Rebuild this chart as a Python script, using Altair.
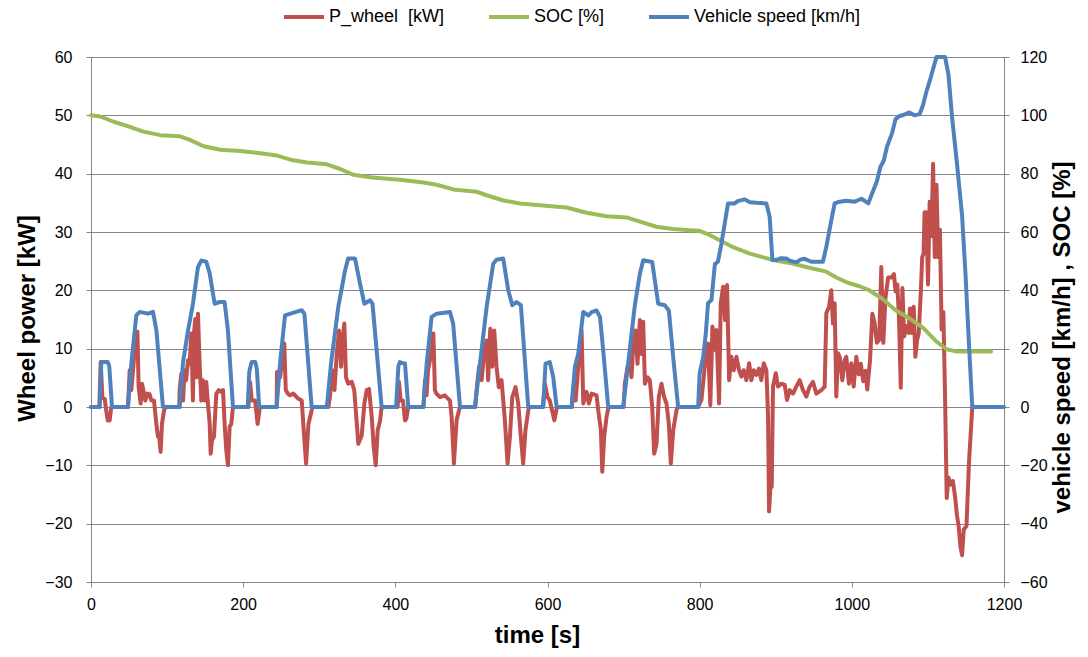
import altair as alt
import pandas as pd

FONT = "Liberation Sans"

# ---- tick values ----
x_ticks = [0, 200, 400, 600, 800, 1000, 1200]
left_ticks = [-30, -20, -10, 0, 10, 20, 30, 40, 50, 60]
right_ticks = [-60, -40, -20, 0, 20, 40, 60, 80, 100, 120]

series_names = ["P_wheel\u00a0 [kW]", "SOC [%]", "Vehicle speed [km/h]"]
series_colors = ["#C0504D", "#9BBB59", "#4F81BD"]

# ---- P_wheel [kW] : (time s, kW) ----
p_wheel_ece1 = [(0, 0), (11, 0), (12.7, 7.7), (15, 1.7), (18, 1.4), (20, -0.6), (22, -2.3), (24.5, -2.3), (26.7, 0),
                (48.6, 0), (50.8, 6.3), (53, 2.9), (57.4, 9.7), (61, 12.9), (62.6, 3.4), (65.3, 0.6), (67, 4), (68.8, 2.9),
                (71.4, 1.1), (74, 2.3), (77, 2.2), (79.3, 1.1), (82.8, 1.1), (85.9, -2.9), (88, -5.1), (89.5, -4.9),
                (91.5, -7.7), (93.3, -2.9), (96, -0.6), (98, 0), (116, 0), (116.5, 2.9), (118.7, 5.7), (121, 1.1),
                (123, 6.3), (125, 4.6), (127.5, 8), (129.6, 7.4), (131.8, 12.6), (134, 1.1), (135.4, 12.6), (137, 15.1),
                (138.9, 5.1), (140.6, 16), (142.8, 7.4), (145, 1.1), (147, 4.6), (149.4, 1.1), (151.5, 4.3), (153.7, 0.6),
                (156, -2.9), (157.3, -8), (159, -5.7), (161.6, -5.1), (164.7, 2.3), (168, 2.9), (171, 2.6), (173.5, 2.9),
                (175.6, -2.9), (177.8, -7.4), (180, -10), (182.2, -3.4), (184.4, -2.9), (186.6, 0)]
p_wheel_ece2 = [(188, 0), (207, 0), (209, 4.3), (211.4, 1.1), (215.7, 1.1), (219, -2.9), (222, 0), (244, 0), (244.5, 6),
                (248.6, 5.1), (254, 10.9), (256, 2.9), (258.6, 2.3), (261.7, 2), (266, 2.3), (272.6, 1.4), (277, 1.1),
                (279, -2.9), (282.7, -9.7), (285.8, -2.9), (290, -0.6), (291, 0), (312, 0), (314, 1.7), (317, 6.3),
                (320, 2.9), (323, 9.1), (326, 13.1), (328.7, 6.9), (331, 12), (333, 14.3), (335.2, 5.1), (338, 4),
                (342.7, 4.3), (346, 2.9), (349, -2.3), (351.4, -6.3), (355.8, -4.9), (359.3, 0.6), (362.4, 2.9),
                (365.4, 3.1), (369, -1.7), (371.6, -6.9), (374.2, -10), (376.8, -4), (380, -2.3), (382, 0)]
p_wheel_ece3 = [(400, 0), (403, 0), (404.8, 4.3), (407, 1.1), (410, 1.1), (412.7, -2.3), (414.5, -2), (417, 0), (437, 0),
                (439, 4.6), (441, 2), (443, 6.3), (447, 9), (450, 12.6), (452, 2.9), (454, 2.3), (458.7, 1.7), (465, 2),
                (471.8, 1.1), (474, -1.7), (477, -9.7), (480.5, -2.3), (483.6, -0.6), (485, 0), (505, 0), (506.8, 2.9),
                (510, 6.9), (513.4, 4.6), (517, 9.7), (520, 11.4), (522, 4.6), (524.8, 13.4), (527.4, 6.9), (530, 13.1),
                (533, 6.9), (536, 3.4), (539.6, 4.6), (544, -2.3), (547.5, -9.7), (550.6, -5.1), (553.7, 1.7), (558, 3.4),
                (561.5, 0.6), (565, -5.1), (568, -9.7), (571, -4), (574.7, -0.6), (576, 0)]
p_wheel_ece4 = [(594, 0), (596.5, 4), (600, 1.7), (603, 1.1), (606, -0.6), (609, -2.3), (612, -0.3), (613, 0), (632, 0),
                (634, 3.4), (637, 1.1), (640.4, 6.9), (644.8, 13.1), (647, 0.6), (651.4, 2.6), (654.4, 0.6), (658, 2.3),
                (664.5, 2), (666.7, -0.6), (670.2, -4), (672, -11.1), (674.5, -5.1), (677.6, -1.7), (679.8, -0.3), (681, 0),
                (700, 0), (701.7, 4), (705.2, 6.9), (708.3, 8), (710.4, 5.1), (712.6, 10.3), (715.7, 13.1), (718.3, 7.4),
                (721.4, 14.9), (723.6, 9.1), (725.8, 14.6), (728, 4), (731.5, 5.1), (734.5, 4.6), (737.6, 0), (740.2, -8),
                (743.3, -6.3), (746.3, 1.7), (749.8, 4), (753.3, 1.7), (756.4, 0.6), (759.5, -2.9), (762.1, -9.7),
                (765.2, -4), (769.5, -0.6), (771, 0)]
p_wheel_eudc = [(798, 0), (802.3, 1.2), (805.4, 5.2), (808.9, 9.8), (811, 10.9), (814, 0.3), (816.8, 13.8), (819.8, 9.8),
                (822, 13.2), (825.5, 0.6), (827.7, 17.8), (830.8, 20.6), (833.4, 14.9), (836, 20.9), (838.7, 4.6),
                (841.7, 8.6), (844.8, 6.3), (848.3, 8.6), (851.8, 6.3), (854.8, 5.2), (857.9, 6.3), (861.4, 4.6),
                (865, 7.5), (868, 4.6), (871, 6.3), (874.5, 5.5), (878, 6.6), (881, 4.6), (884.2, 7.5), (887.7, 6.3),
                (889.9, -1.7), (891.2, -17.9), (893, -13.7), (894.7, -13.7), (896.4, 3.5), (900, 5.8), (903, 3.5),
                (907.4, 4), (911.8, 3.8), (914.8, 1.2), (918.3, 2.9), (922.7, 2.3), (927, 3.5), (931.5, 4.6),
                (935.8, 2.9), (940.2, 1.8), (944.6, 3.5), (949, 4.3), (953.3, 2.3), (960, 2.9), (964.3, 3.5),
                (966.5, 16.1), (970, 17.2), (973, 20), (975.2, 14.3), (977.4, 17.8), (979.6, 1.8), (981.8, 9.2),
                (984, 8.6), (987.5, 4.6), (990.5, 8), (992.7, 8.6), (996.2, 4), (999.3, 7.5), (1002.4, 3.5),
                (1005.9, 8.6), (1009.1, 5.6), (1011.8, 7.4), (1015, 4.4), (1018, 6.2), (1020.3, 3), (1023.9, 8),
                (1027, 16), (1029.8, 14.5), (1032.9, 11), (1036, 11.5), (1038.7, 24), (1041.4, 11), (1044.1, 18.6),
                (1047.7, 22.2), (1052.2, 22.2), (1055.3, 22.8), (1057.5, 19.8), (1059.8, 21), (1062, 15.1),
                (1064.3, 3.3), (1066.5, 20.4), (1068.7, 12.1), (1071.9, 13.9), (1074.6, 12.7), (1076.4, 16.9),
                (1079, 12.7), (1081.3, 17.2), (1083.5, 8.6), (1085.8, 11.5), (1088, 12.7), (1090.7, 19.8),
                (1092.5, 25.7), (1094.3, 26.3), (1095.6, 33.4), (1097.9, 33.4), (1100.1, 21), (1102.3, 35.2),
                (1104.6, 29.3), (1106.8, 41.7), (1109, 25.7), (1111.3, 38.1), (1113.5, 25.7), (1115.8, 30.4),
                (1118, 13.3), (1120.3, 16.3), (1122.5, 2), (1124.7, -15.6), (1127, -12.1), (1130.1, -13.3),
                (1132.8, -12.7), (1135.9, -15.6), (1138.2, -18.6), (1140.4, -20.4), (1142.7, -23.9), (1144.9, -25.4),
                (1147.1, -21), (1150.7, -20.4), (1153.9, -9.7), (1158.3, 0)]

# ---- SOC [%] ----
soc_points = [(0, 100), (12.2, 99.6), (29.7, 97.8), (47.2, 96.4), (69, 94.4), (91, 93.2), (117, 92.8), (130, 91.6),
              (148, 89.4), (170, 88.2), (196, 87.8), (222.6, 87), (244.5, 86.2), (262, 84.8), (284, 83.8), (310, 83.2),
              (327.6, 81.6), (345, 79.6), (367, 78.8), (393, 78.2), (406, 77.9), (437, 77), (454.3, 76.2),
              (476.2, 74.6), (507, 73.8), (520, 72.6), (542, 70.8), (563.8, 69.8), (590, 69.2), (625, 68.4),
              (651.3, 66.6), (677.6, 65.4), (703.8, 65), (725.7, 63.2), (743.2, 61.8), (765, 61), (787, 60.6),
              (800, 60.4), (813, 59), (830.8, 56.6), (844, 54.8), (865.8, 52.6), (896.4, 50.4), (918, 49.4),
              (940, 48), (966.5, 46.4), (979.6, 44.4), (994.8, 42.6), (1010, 41.4), (1021.7, 40.2), (1039.6, 37.2),
              (1057.5, 33.2), (1075.5, 30.4), (1093.4, 27.2), (1111.3, 22.4), (1124.7, 19.8), (1138.2, 19),
              (1156, 19), (1183, 19)]

# ---- Vehicle speed [km/h] ----
speed_ece1 = [(0, 0), (11.4, 0), (13.6, 15.4), (22, 15.4), (24, 14), (27.6, 0), (48.6, 0), (53, 14.9), (59.6, 31.4),
              (64, 32.6), (75, 32), (81.5, 32.6), (86, 26.2), (94.6, 0), (116.5, 0), (121, 15.4), (127.5, 26.2),
              (134, 35.4), (140.6, 48), (145, 50.2), (151.5, 49.8), (156, 45.8), (162.5, 35.4), (169, 36),
              (175.6, 36), (180, 26.2), (186.6, 0)]
speed_ece2 = [(206, 0), (208, 12), (211, 15.4), (216, 15.4), (218, 13), (221, 0), (244, 0), (248.6, 15.4), (255, 31.4),
              (277, 33.2), (280.5, 32), (290, 0), (310, 0), (315.5, 14.9), (325, 34.3), (334, 46.9), (338, 50.9),
              (347, 50.9), (353.6, 42.3), (359.3, 35.4), (366.7, 36.6), (370, 35.4), (382, 0)]
speed_ece3 = [(401, 0), (404, 14), (406, 15.4), (410, 15), (412.7, 14.9), (417, 0), (436.8, 0), (441, 14.3),
              (447.7, 30.9), (454.3, 32), (471.8, 32.6), (476, 28.6), (485, 0), (504.6, 0), (511, 14.3), (520, 34.3),
              (528.7, 49.1), (533, 50.5), (541.8, 50.9), (548.4, 40), (553.7, 34.9), (559.3, 36), (565, 34.9),
              (574.7, 0)]
speed_ece4 = [(594.4, 0), (597.4, 14.9), (603, 15.4), (607.5, 10.3), (612, 0), (631.6, 0), (636, 13.7), (640.4, 18.3),
              (647, 32.6), (653.5, 31.4), (658, 32.5), (664.5, 33.1), (669, 30.9), (673.2, 19.4), (679.8, 0),
              (699.5, 0), (706, 14.9), (714.8, 34.9), (721.4, 45.7), (725.8, 50.3), (737.6, 49.7), (745.5, 35.4),
              (754.2, 34.9), (759.5, 33.1), (765.2, 17.1), (771.7, 0)]
speed_eudc = [(798, 0), (800, 11.5), (804.5, 17), (808, 25), (811, 35.6), (815.5, 36.7), (820, 49), (824, 49.8),
              (828.6, 56), (833, 63), (837.3, 69.8), (846, 69.8), (850, 70.6), (859, 71.2), (866, 70.2), (874.5, 70),
              (887.7, 69.8), (892, 65.2), (895.6, 50.4), (901, 50.4), (906, 51), (914, 50.9), (918.3, 50.2),
              (927, 49.6), (933, 50.6), (938, 50.8), (946.8, 49.8), (962, 49.8), (966.5, 55), (973, 64),
              (977.4, 69.8), (984, 70.4), (992.7, 70.7), (1003.8, 70.4), (1012.7, 71.4), (1021.7, 69.8),
              (1026, 72.8), (1033, 77.4), (1037.4, 82.2), (1042, 84.5), (1046.3, 89.3), (1053, 94), (1057.5, 98.7),
              (1062, 99.7), (1068.7, 100.2), (1075.5, 101), (1082.2, 100), (1089, 100.4), (1093.4, 103.4),
              (1097.9, 108), (1102.3, 111.7), (1106.8, 115.9), (1111.3, 120), (1122.5, 120), (1127, 114),
              (1131.5, 100), (1138.2, 83.4), (1144.9, 65.6), (1149.4, 45.6), (1153.9, 21.8), (1158.3, 0), (1200, 0)]


def frame(points, name):
    return pd.DataFrame({"t": [p[0] for p in points], "v": [p[1] for p in points], "series": name})


df_p = frame(p_wheel_ece1 + p_wheel_ece2 + p_wheel_ece3 + p_wheel_ece4 + p_wheel_eudc, series_names[0])
df_soc = frame(soc_points, series_names[1])
df_spd = frame(speed_ece1 + speed_ece2 + speed_ece3 + speed_ece4 + speed_eudc, series_names[2])

x_enc = alt.X(
    "t:Q",
    scale=alt.Scale(domain=[0, 1200], nice=False, zero=False),
    axis=alt.Axis(values=x_ticks, format="d", title="time [s]", grid=False, labelPadding=9,
                  titleX=446, titleY=53, titleAlign="center", titleBaseline="middle"),
)

color_enc = alt.Color(
    "series:N",
    scale=alt.Scale(domain=series_names, range=series_colors),
    legend=alt.Legend(title=None, orient="none", legendX=191, legendY=-62, direction="horizontal",
                      symbolType="stroke", symbolSize=1600, symbolStrokeWidth=4, padding=0,
                      labelFont=FONT, labelFontSize=18, labelColor="#000000", labelOffset=3,
                      columnPadding=36, labelLimit=400),
)

left_y = alt.Y(
    "v:Q",
    scale=alt.Scale(domain=[-30, 60], nice=False, zero=False),
    axis=alt.Axis(values=left_ticks, format="d", title="Wheel power [kW]", orient="left", grid=True,
                  labelPadding=14, titleX=-64, titleY=261, titleAngle=270, titleAlign="center",
                  titleBaseline="middle"),
)

right_axis = alt.Axis(values=right_ticks, format="d", title="vehicle speed [km/h] , SOC [%]", orient="right",
                      grid=False, labelPadding=11, titleX=58, titleY=280, titleAngle=270, titleAlign="center",
                      titleBaseline="middle")
right_scale = alt.Scale(domain=[-60, 120], nice=False, zero=False)

line_style = dict(strokeWidth=4, strokeJoin="round", strokeCap="round")

red = alt.Chart(df_p).mark_line(**line_style).encode(x=x_enc, y=left_y, color=color_enc)
green = alt.Chart(df_soc).mark_line(**line_style).encode(
    x=x_enc, y=alt.Y("v:Q", scale=right_scale, axis=right_axis), color=color_enc)
blue = alt.Chart(df_spd).mark_line(**line_style).encode(
    x=x_enc, y=alt.Y("v:Q", scale=right_scale, axis=right_axis), color=color_enc)

chart = (
    alt.layer(red, alt.layer(green, blue))
    .resolve_scale(y="independent")
    .properties(
        width=913,
        height=525,
        autosize=alt.AutoSizeParams(type="none"),
        padding={"left": 91, "top": 57, "right": 84, "bottom": 75},
        background="white",
    )
    .configure_axis(
        labelFont=FONT, labelFontSize=16, labelColor="#000000", labelFlush=False,
        titleFont=FONT, titleFontSize=24, titleFontWeight="bold", titleColor="#000000",
        domainColor="#868686", domainWidth=1, tickColor="#868686", tickSize=5, tickWidth=1,
        gridColor="#868686", gridWidth=1,
    )
    .configure_view(strokeWidth=0)
)

chart.save("out.html", embed_options={"renderer": "svg", "actions": False})
